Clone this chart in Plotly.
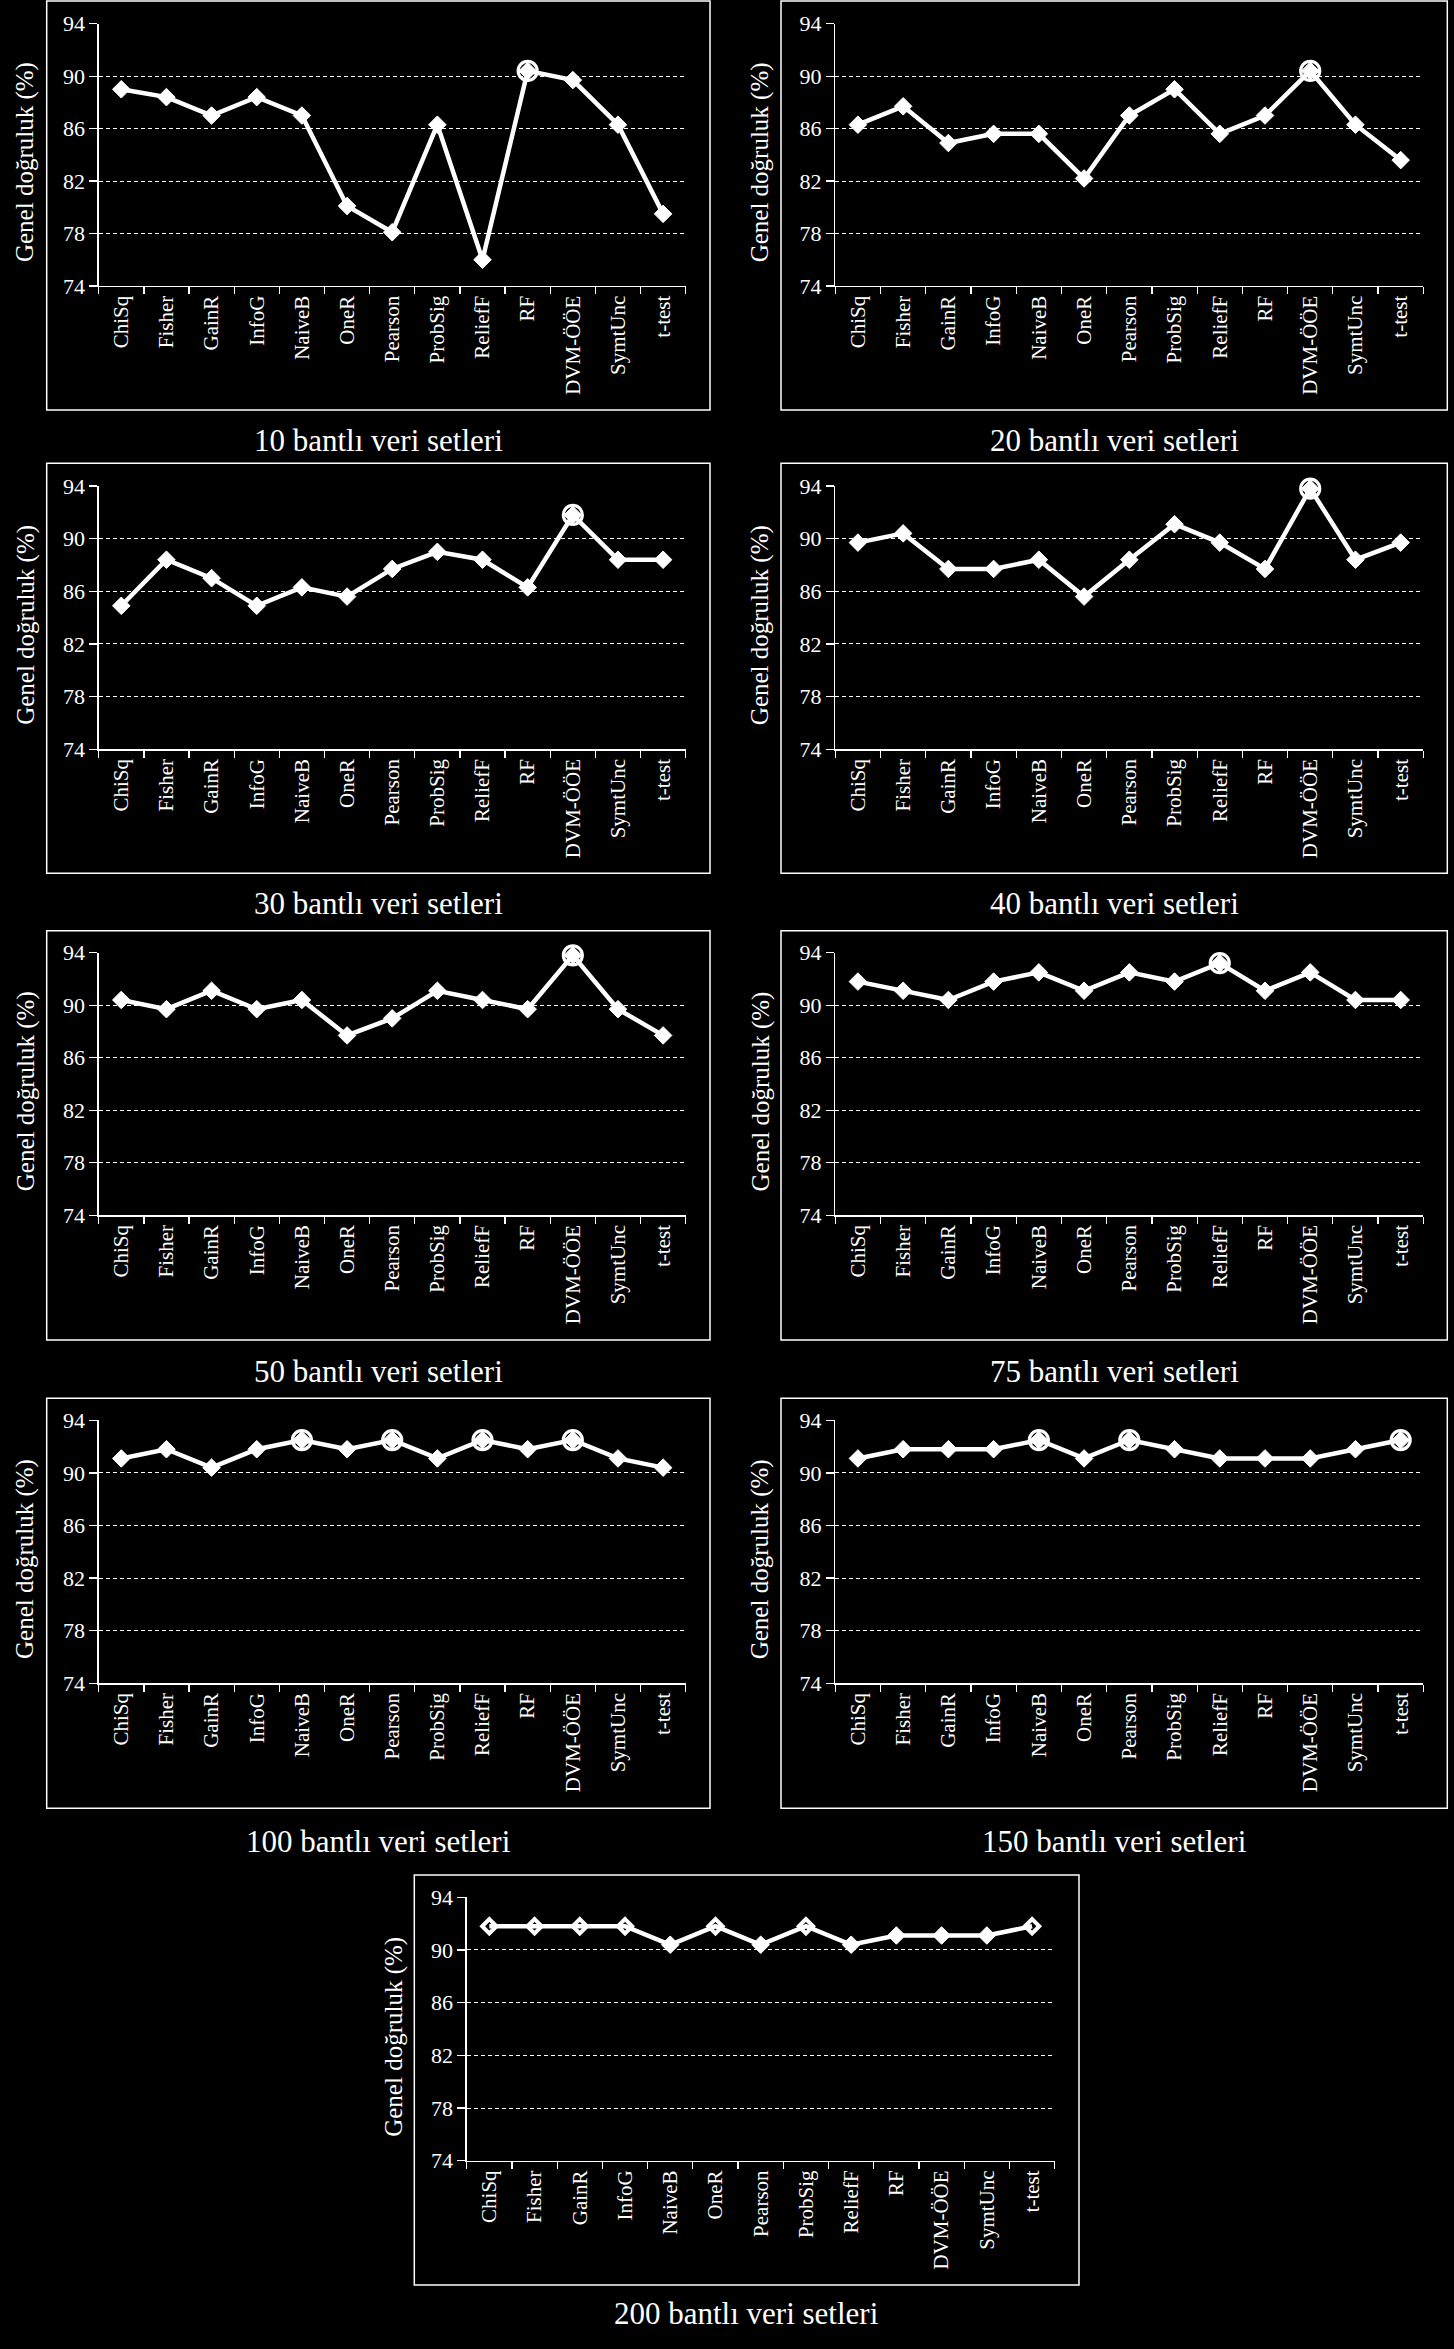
import plotly.graph_objects as go

W, H = 1454, 2349

categories = ["ChiSq", "Fisher", "GainR", "InfoG", "NaiveB", "OneR", "Pearson",
              "ProbSig", "ReliefF", "RF", "DVM-ÖÖE", "SymtUnc", "t-test"]

acc_10 = [89.0, 88.4, 87.0, 88.4, 87.0, 80.1, 78.1, 86.3, 76.0, 90.4, 89.7, 86.3, 79.5]
acc_20 = [86.3, 87.7, 84.9, 85.6, 85.6, 82.2, 87.0, 89.0, 85.6, 87.0, 90.4, 86.3, 83.6]
acc_30 = [84.9, 88.4, 87.0, 84.9, 86.3, 85.6, 87.7, 89.0, 88.4, 86.3, 91.8, 88.4, 88.4]
acc_40 = [89.7, 90.4, 87.7, 87.7, 88.4, 85.6, 88.4, 91.1, 89.7, 87.7, 93.8, 88.4, 89.7]
acc_50 = [90.4, 89.7, 91.1, 89.7, 90.4, 87.7, 89.0, 91.1, 90.4, 89.7, 93.8, 89.7, 87.7]
acc_75 = [91.8, 91.1, 90.4, 91.8, 92.5, 91.1, 92.5, 91.8, 93.2, 91.1, 92.5, 90.4, 90.4]
acc_100 = [91.1, 91.8, 90.4, 91.8, 92.5, 91.8, 92.5, 91.1, 92.5, 91.8, 92.5, 91.1, 90.4]
acc_150 = [91.1, 91.8, 91.8, 91.8, 92.5, 91.1, 92.5, 91.8, 91.1, 91.1, 91.1, 91.8, 92.5]
acc_200 = [91.8, 91.8, 91.8, 91.8, 90.4, 91.8, 90.4, 91.8, 90.4, 91.1, 91.1, 91.1, 91.8]

series = [acc_10, acc_20, acc_30, acc_40, acc_50, acc_75, acc_100, acc_150, acc_200]
panel_titles = ["10 bantlı veri setleri", "20 bantlı veri setleri", "30 bantlı veri setleri",
                "40 bantlı veri setleri", "50 bantlı veri setleri", "75 bantlı veri setleri",
                "100 bantlı veri setleri", "150 bantlı veri setleri", "200 bantlı veri setleri"]
y_ticks = [74, 78, 82, 86, 90, 94]
y_title = "Genel doğruluk (%)"

# highlight style of the best value(s) in each panel
highlight = ["circle"] * 8 + ["open"]

# ---------- layout geometry (pixels) ----------
cols = {"L": dict(ax0=98.7, ax1=685.7, f0=46.7, f1=710.0),
        "R": dict(ax0=835.3, ax1=1423.3, f0=781.0, f1=1447.3),
        "C": dict(ax0=466.7, ax1=1054.7, f0=414.3, f1=1079.0)}
rows = [dict(top=23.7, bot=286.0, ft=1.0, fb=410.0, tt=440.0),
        dict(top=486.0, bot=749.3, ft=463.3, fb=873.3, tt=903.0),
        dict(top=952.7, bot=1215.3, ft=930.7, fb=1340.0, tt=1371.7),
        dict(top=1420.3, bot=1683.3, ft=1398.3, fb=1808.3, tt=1841.7),
        dict(top=1897.3, bot=2160.7, ft=1875.0, fb=2285.0, tt=2313.0)]
placement = [("L", 0), ("R", 0), ("L", 1), ("R", 1), ("L", 2), ("R", 2),
             ("L", 3), ("R", 3), ("C", 4)]

FONT = "Liberation Serif, Times New Roman, serif"
fig = go.Figure()
shapes = []
annotations = []
layout_axes = {}


def px(x):
    return x / W


def py(y):
    return 1 - y / H


for i, (vals, title, hl, (ck, rk)) in enumerate(zip(series, panel_titles, highlight, placement)):
    c, r = cols[ck], rows[rk]
    n = i + 1
    xa = "x" if n == 1 else f"x{n}"
    ya = "y" if n == 1 else f"y{n}"
    best = max(vals)
    if hl == "open":
        symbols = ["diamond-open" if v == best else "diamond" for v in vals]
    else:
        symbols = ["diamond"] * len(vals)
    fig.add_trace(go.Scatter(
        x=categories, y=vals, mode="lines+markers", xaxis=xa, yaxis=ya,
        cliponaxis=False,
        line=dict(color="white", width=4.5),
        marker=dict(symbol=symbols, opacity=1,
                    size=[11 if s == "diamond-open" else 13.5 for s in symbols],
                    color="white",
                    line=dict(color="white",
                              width=[4 if s == "diamond-open" else 1 for s in symbols])),
        showlegend=False, hoverinfo="skip"))
    if hl == "circle":
        bx = [cat for cat, v in zip(categories, vals) if v == best]
        by = [v for v in vals if v == best]
        fig.add_trace(go.Scatter(
            x=bx, y=by, mode="markers", xaxis=xa, yaxis=ya, cliponaxis=False,
            marker=dict(symbol="circle-open", size=19, color="white", opacity=1,
                        line=dict(color="white", width=3.2)),
            showlegend=False, hoverinfo="skip"))

    axis_common = dict(showline=True, linecolor="white", linewidth=1.3,
                       ticks="outside", tickcolor="white", tickwidth=1.3,
                       automargin=False)
    layout_axes["xaxis" if n == 1 else f"xaxis{n}"] = dict(
        domain=[px(c["ax0"]), px(c["ax1"])], anchor=ya, type="category",
        categoryorder="array", categoryarray=categories,
        range=[-0.5, len(categories) - 0.5], tickson="boundaries", ticklen=7,
        tickangle=-90, showgrid=False, zeroline=False,
        tickfont=dict(family=FONT, size=21, color="white"), **axis_common)
    layout_axes["yaxis" if n == 1 else f"yaxis{n}"] = dict(
        domain=[py(r["bot"]), py(r["top"])], anchor=xa, range=[74, 94],
        tickvals=y_ticks, ticktext=[str(t) for t in y_ticks], ticklen=8,
        showgrid=True, gridcolor="white", gridwidth=1, griddash="4px,3px",
        zeroline=False, tickfont=dict(family=FONT, size=22, color="white"),
        **axis_common)

    shapes.append(dict(type="rect", xref="paper", yref="paper",
                       x0=px(c["f0"]), x1=px(c["f1"]), y0=py(r["fb"]), y1=py(r["ft"]),
                       line=dict(color="white", width=1.5), fillcolor="rgba(0,0,0,0)"))
    annotations.append(dict(text=title, xref="paper", yref="paper",
                            x=px((c["f0"] + c["f1"]) / 2), y=py(r["tt"]),
                            xanchor="center", yanchor="middle", showarrow=False,
                            font=dict(family=FONT, size=31, color="white")))
    annotations.append(dict(text=y_title, xref="paper", yref="paper",
                            x=px(c["f0"] - 21), y=py((r["top"] + r["bot"]) / 2 + 7.5),
                            xanchor="center", yanchor="middle", textangle=-90,
                            showarrow=False,
                            font=dict(family=FONT, size=25, color="white")))

fig.update_layout(width=W, height=H, autosize=False,
                  margin=dict(l=0, r=0, t=0, b=0, pad=0, autoexpand=False),
                  paper_bgcolor="black", plot_bgcolor="black",
                  shapes=shapes, annotations=annotations, **layout_axes)

fig.write_html(
    "out.html",
    config={"displayModeBar": False, "staticPlot": True},
    post_script=("document.body.style.margin='0px';"
                 "document.body.style.background='black';"
                 "var gd=document.getElementById('{plot_id}');"
                 "gd.style.position='absolute';gd.style.top='0px';gd.style.left='0px';"),
)
